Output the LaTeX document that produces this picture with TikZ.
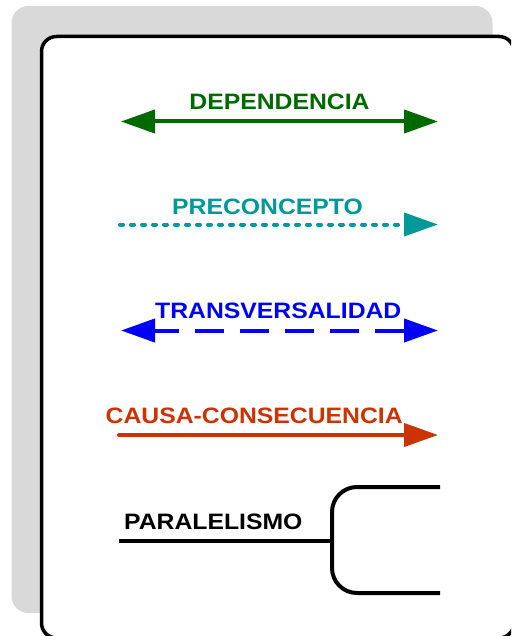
\documentclass[tikz,border=0pt]{standalone}
\usepackage{fontspec}
\setmainfont{Liberation Sans}
\usetikzlibrary{arrows.meta}
\definecolor{depgreen}{HTML}{006A00}
\definecolor{preteal}{HTML}{009999}
\definecolor{trblue}{HTML}{0000FF}
\definecolor{caured}{HTML}{CC3300}
\definecolor{shadowgray}{HTML}{D9D9D9}
\tikzset{
  lbl/.style={anchor=base, inner sep=0pt, font=\fontsize{22.3}{26}\selectfont\bfseries},
  conn/.style={line width=4pt},
  tip/.style={-{Triangle[length=34pt,width=23pt]}},
  dtip/.style={{Triangle[length=34pt,width=23pt]}-{Triangle[length=34pt,width=23pt]}},
}
\newcommand{\wide}[1]{\scalebox{1.11}[1]{#1}}
\begin{document}
\begin{tikzpicture}[x=1pt,y=-1pt]
\useasboundingbox (0,0) rectangle (511,636);
\clip (0,0) rectangle (511,636);
% shadow and frame
\fill[shadowgray, rounded corners=17pt] (11.5,6) rectangle (492.5,613);
\draw[line width=3.5pt, fill=white, rounded corners=15pt] (41.5,36.5) rectangle (514,638);

% DEPENDENCIA
\node[lbl, text=depgreen] (tdep) at (279.5,110) {\wide{DEPENDENCIA}};
\coordinate (dep1) at (121,121.5);
\coordinate (dep2) at (438,121.5);
\draw[conn, dtip, depgreen] (dep1) -- (dep2);

% PRECONCEPTO
\node[lbl, text=preteal] (tpre) at (267.5,214.3) {\wide{PRECONCEPTO}};
\coordinate (pre1) at (120,224.5);
\coordinate (pre2) at (438,224.5);
\draw[conn, tip, preteal, line cap=round, dash pattern=on 3pt off 8pt] (pre1) -- (pre2);

% TRANSVERSALIDAD
\node[lbl, text=trblue] (ttr) at (278.3,318.3) {\wide{TRANSVERSALIDAD}};
\coordinate (tr1) at (121,330.5);
\coordinate (tr2) at (438,330.5);
\draw[conn, dtip, trblue, dash pattern=on 29pt off 16pt, dash phase=4pt] (tr1) -- (tr2);

% CAUSA-CONSECUENCIA
\node[lbl, text=caured] (tcau) at (254.2,423.3) {\wide{CAUSA-CONSECUENCIA}};
\coordinate (cau1) at (119,435);
\coordinate (cau2) at (438,435);
\draw[conn, tip, caured, line cap=round] (cau1) -- (cau2);

% PARALELISMO
\node[lbl, text=black] (tpar) at (213.3,529.3) {\wide{PARALELISMO}};
\coordinate (par1) at (119,540.5);
\coordinate (parj) at (332,540.5);
\coordinate (part) at (440,487);
\coordinate (parb) at (440,593);
\draw[conn] (par1) -- (parj);
\draw[conn, rounded corners=25pt] (part) -- (part -| parj) -- (parb -| parj) -- (parb);
\end{tikzpicture}
\end{document}
